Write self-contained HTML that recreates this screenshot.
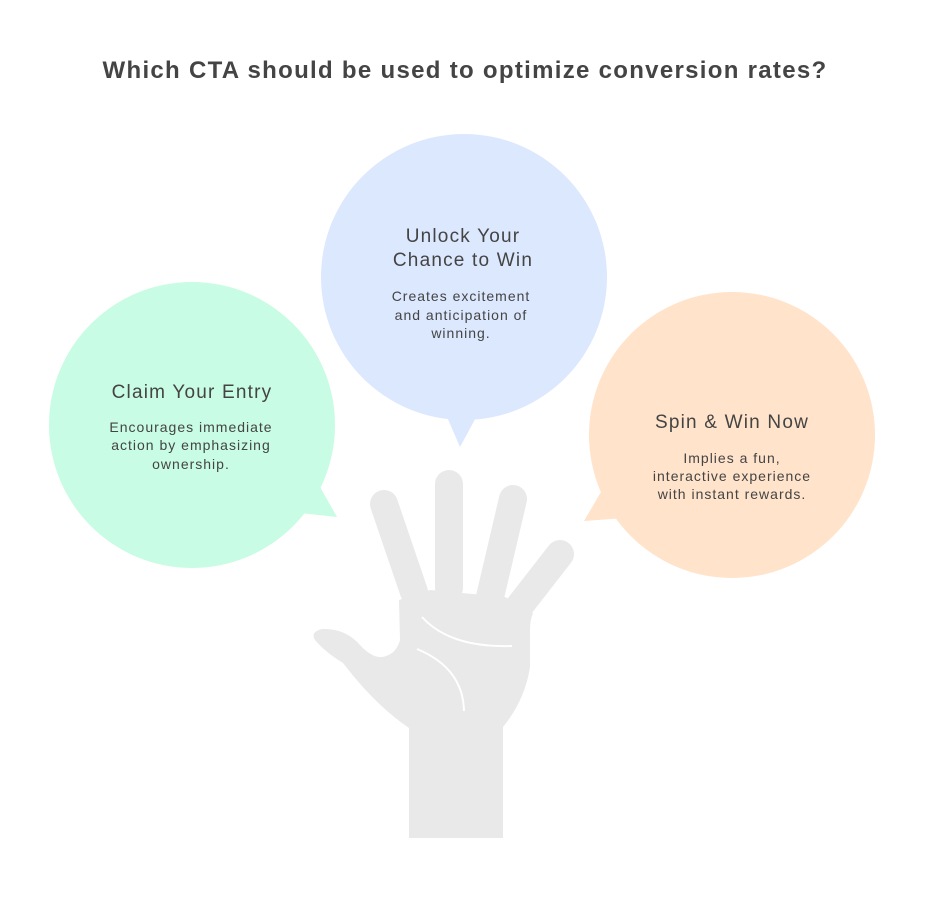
<!DOCTYPE html>
<html><head><meta charset="utf-8"><style>
html,body{margin:0;padding:0;background:#fff;}
svg{display:block;}
text{font-family:"Liberation Sans",sans-serif;fill:#444;}
</style></head><body>
<svg width="929" height="912" viewBox="0 0 929 912" xmlns="http://www.w3.org/2000/svg">
<text x="465" y="78" text-anchor="middle" font-size="24" font-weight="bold" fill="#404040" letter-spacing="1.3">Which CTA should be used to optimize conversion rates?</text>

<circle cx="192" cy="425" r="143" fill="#c8fce4"/>
<polygon points="316,480 337,517 300,513" fill="#c8fce4"/>
<circle cx="464" cy="277" r="143" fill="#dce8fe"/>
<polygon points="444,410 460,447 480,410" fill="#dce8fe"/>
<circle cx="732" cy="435" r="143" fill="#ffe3cb"/>
<polygon points="608,480 584,521 625,518" fill="#ffe3cb"/>

<g fill="#e9e9e9" stroke="#e9e9e9">
<g stroke-width="28" stroke-linecap="round" fill="none">
<line x1="384" y1="504" x2="414" y2="592"/>
<line x1="449" y1="484" x2="449" y2="588"/>
<line x1="513" y1="499" x2="490" y2="597"/>
<line x1="560" y1="554" x2="518" y2="608"/>
</g>
<path stroke="none" d="M399,600 L430,590 L505,597 L522,606 L533,613 Q530,620 530,630 L530,667 Q525,700 503,727 L503,838 L409,838 L409,728 Q375,705 343,663 Q325,652 315,640 Q310,632 322,629 Q345,628 360,645 Q372,658 382,657 Q396,655 400,640 Z"/>
</g>
<path d="M422,617 Q450,648 512,646" stroke="#fff" stroke-width="2" fill="none"/>
<path d="M417,649 Q463,668 464,711" stroke="#fff" stroke-width="2" fill="none"/>

<text x="192" y="398" text-anchor="middle" font-size="19" letter-spacing="1.2">Claim Your Entry</text>
<text text-anchor="middle" font-size="14" letter-spacing="1"><tspan x="191" y="432">Encourages immediate</tspan><tspan x="191" y="450">action by emphasizing</tspan><tspan x="191" y="469">ownership.</tspan></text>

<text text-anchor="middle" font-size="19" letter-spacing="1.2"><tspan x="463" y="242">Unlock Your</tspan><tspan x="463" y="266">Chance to Win</tspan></text>
<text text-anchor="middle" font-size="14" letter-spacing="1"><tspan x="461" y="301">Creates excitement</tspan><tspan x="461" y="320">and anticipation of</tspan><tspan x="461" y="338">winning.</tspan></text>

<text x="732" y="428" text-anchor="middle" font-size="19" letter-spacing="1.2">Spin &amp; Win Now</text>
<text text-anchor="middle" font-size="14" letter-spacing="1"><tspan x="732" y="463">Implies a fun,</tspan><tspan x="732" y="481">interactive experience</tspan><tspan x="732" y="499">with instant rewards.</tspan></text>
</svg>
</body></html>
